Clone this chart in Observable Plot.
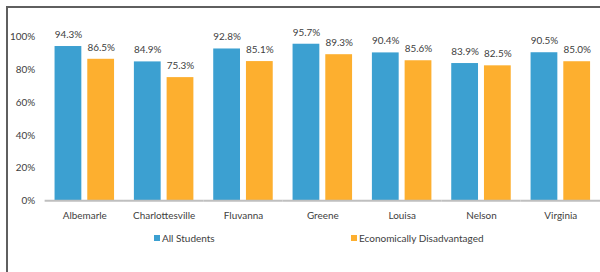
<!DOCTYPE html>
<html>
<head>
<meta charset="utf-8">
<script src="https://cdn.jsdelivr.net/npm/d3@7"></script>
<script src="https://cdn.jsdelivr.net/npm/@observablehq/plot@0.6"></script>
<style>
  html, body { margin: 0; padding: 0; overflow: hidden; background: #fff; width: 600px; height: 272px; }
  #frame { position: absolute; left: 6px; top: 6px; width: 700px; height: 400px; border-top: 2px solid #5f5f5f; border-left: 2px solid #5f5f5f; box-sizing: border-box; }
  #chart { position: absolute; left: 0; top: 0; }
  .leg { position: absolute; top: 232px; font: 10px Lato, sans-serif; color: #404040; display: flex; align-items: center; white-space: nowrap; }
  .sw { width: 6px; height: 6px; margin-right: 2px; display: inline-block; }
</style>
</head>
<body>
<div id="frame"></div>
<div id="chart"></div>
<div class="leg" id="leg0" style="left:154px"></div>
<div class="leg" id="leg1" style="left:351px"></div>
<script>
const counties = ["Albemarle", "Charlottesville", "Fluvanna", "Greene", "Louisa", "Nelson", "Virginia"];
const allStudents = [94.3, 84.9, 92.8, 95.7, 90.4, 83.9, 90.5];
const econDisadvantaged = [86.5, 75.3, 85.1, 89.3, 85.6, 82.5, 85.0];
const seriesNames = ["All Students", "Economically Disadvantaged"];
const seriesColors = ["#3ca0d1", "#fdaf2f"];
const yTicks = [0, 20, 40, 60, 80, 100];

const data = counties.flatMap((c, i) => [
  {county: c, series: seriesNames[0], value: allStudents[i]},
  {county: c, series: seriesNames[1], value: econDisadvantaged[i]}
]);

const chart = Plot.plot({
  width: 605,
  height: 228,
  marginLeft: 45,
  marginRight: 0,
  marginTop: 37,
  marginBottom: 26,
  style: {fontFamily: "Lato, sans-serif", fontSize: "10px", color: "#404040", background: "transparent"},
  fx: {domain: counties, padding: 0, label: null},
  x: {domain: seriesNames, paddingInner: 0.19, paddingOuter: 0.29, axis: null},
  y: {domain: [0, 100], axis: null},
  color: {domain: seriesNames, range: seriesColors},
  marks: [
    Plot.barY(data, {fx: "county", x: "series", y: "value", fill: "series"}),
    Plot.text(data, {fx: "county", x: "series", y: "value", text: d => d.value.toFixed(1) + "%", dy: -12, fill: "#404040"}),
    Plot.ruleY([0], {stroke: "#bfbfbf", strokeWidth: 2}),
    Plot.axisY({ticks: yTicks, tickFormat: d => d + "%", tickSize: 0, tickPadding: 10, line: true, stroke: "#a6a6a6", fill: "#404040", label: null}),
    Plot.axisFx({anchor: "bottom", tickSize: 0, tickPadding: 11, label: null, fill: "#404040"})
  ]
});
document.getElementById("chart").appendChild(chart);

seriesNames.forEach((s, i) => {
  const el = document.getElementById("leg" + i);
  const sw = document.createElement("span");
  sw.className = "sw";
  sw.style.background = seriesColors[i];
  el.appendChild(sw);
  el.appendChild(document.createTextNode(s));
});
</script>
</body>
</html>
